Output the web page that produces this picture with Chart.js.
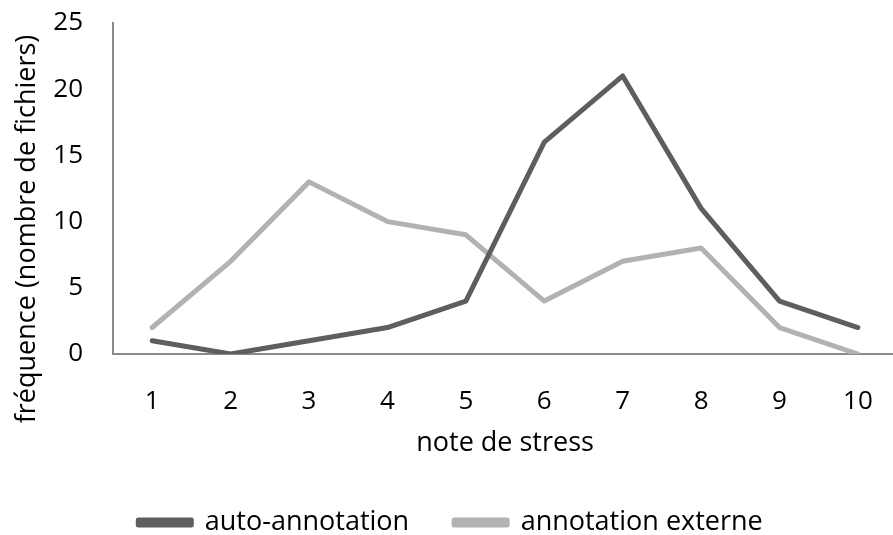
<!DOCTYPE html>
<html>
<head>
<meta charset="utf-8">
<script src="https://cdn.jsdelivr.net/npm/chart.js@4/dist/chart.umd.min.js"></script>
<style>
  html, body { margin: 0; padding: 0; background: #ffffff; overflow: hidden; }
  #wrap { position: relative; width: 893px; height: 535px; overflow: hidden; background: #ffffff; }
  #wrap canvas { position: absolute; left: 0; top: 0; }
</style>
</head>
<body>
<div id="wrap">
  <canvas id="chart" width="905" height="546" style="width:905px;height:546px"></canvas>
</div>
<script>
// Stress score categories (x axis)
const notes = ['1', '2', '3', '4', '5', '6', '7', '8', '9', '10'];

// Number of files per stress score
const autoAnnotation = [1, 0, 1, 2, 4, 16, 21, 11, 4, 2];
const annotationExterne = [2, 7, 13, 10, 9, 4, 7, 8, 2, 0];

// Y axis tick values
const yTicks = [0, 5, 10, 15, 20, 25];

const seriesNames = ['auto-annotation', 'annotation externe'];
const xTitle = 'note de stress';
const yTitle = 'fréquence (nombre de fichiers)';

const FONT = '"Open Sans", "DejaVu Sans", sans-serif';
const AXIS_COLOR = '#8a8a8a';

// Vertical axis title, placed a little below the middle of the plot
const yTitlePlugin = {
  id: 'yAxisTitle',
  afterDraw(chart, args, opts) {
    const { ctx } = chart;
    ctx.save();
    ctx.translate(opts.x, opts.y);
    ctx.rotate(-Math.PI / 2);
    ctx.font = `${opts.size}px ${FONT}`;
    ctx.fillStyle = '#000000';
    ctx.textAlign = 'center';
    ctx.textBaseline = 'middle';
    ctx.fillText(opts.text, 0, 0);
    ctx.restore();
  }
};

new Chart(document.getElementById('chart'), {
  type: 'line',
  data: {
    labels: notes,
    datasets: [
      {
        label: seriesNames[0],
        data: autoAnnotation,
        borderColor: '#5e5e5e',
        backgroundColor: '#5e5e5e',
        borderWidth: 5,
        pointRadius: 0,
        pointHoverRadius: 0,
        tension: 0,
        borderCapStyle: 'round',
        borderJoinStyle: 'round'
      },
      {
        label: seriesNames[1],
        data: annotationExterne,
        borderColor: '#b2b2b2',
        backgroundColor: '#b2b2b2',
        borderWidth: 5,
        pointRadius: 0,
        pointHoverRadius: 0,
        tension: 0,
        borderCapStyle: 'round',
        borderJoinStyle: 'round'
      }
    ]
  },
  plugins: [yTitlePlugin],
  options: {
    responsive: false,
    animation: false,
    events: [],
    layout: { padding: { top: 23, right: 4, left: 0, bottom: 0 } },
    plugins: {
      tooltip: { enabled: false },
      yAxisTitle: { text: yTitle, x: 27, y: 229, size: 27 },
      legend: {
        position: 'bottom',
        labels: {
          boxWidth: 53,
          boxHeight: 5,
          padding: 45,
          color: '#000000',
          font: { family: FONT, size: 27 }
        }
      }
    },
    scales: {
      x: {
        type: 'category',
        offset: true,
        grid: { display: false, drawTicks: false },
        border: { display: true, color: AXIS_COLOR, width: 2 },
        ticks: { color: '#000000', padding: 32, font: { family: FONT, size: 26 } },
        title: {
          display: true,
          text: xTitle,
          color: '#000000',
          font: { family: FONT, size: 27 },
          padding: { top: 0, bottom: 4 }
        },
        afterFit: (scale) => { scale.height = 110; }
      },
      y: {
        min: 0,
        max: 25,
        // hidden tick marks still reserve the gap between labels and axis
        grid: { display: false, drawTicks: true, tickLength: 28 },
        border: { display: true, color: AXIS_COLOR, width: 2 },
        afterBuildTicks: (scale) => { scale.ticks = yTicks.map(v => ({ value: v })); },
        ticks: { color: '#000000', padding: 2, font: { family: FONT, size: 26 } },
        title: { display: false },
        afterFit: (scale) => { scale.width = 113; }
      }
    }
  }
});
</script>
</body>
</html>
